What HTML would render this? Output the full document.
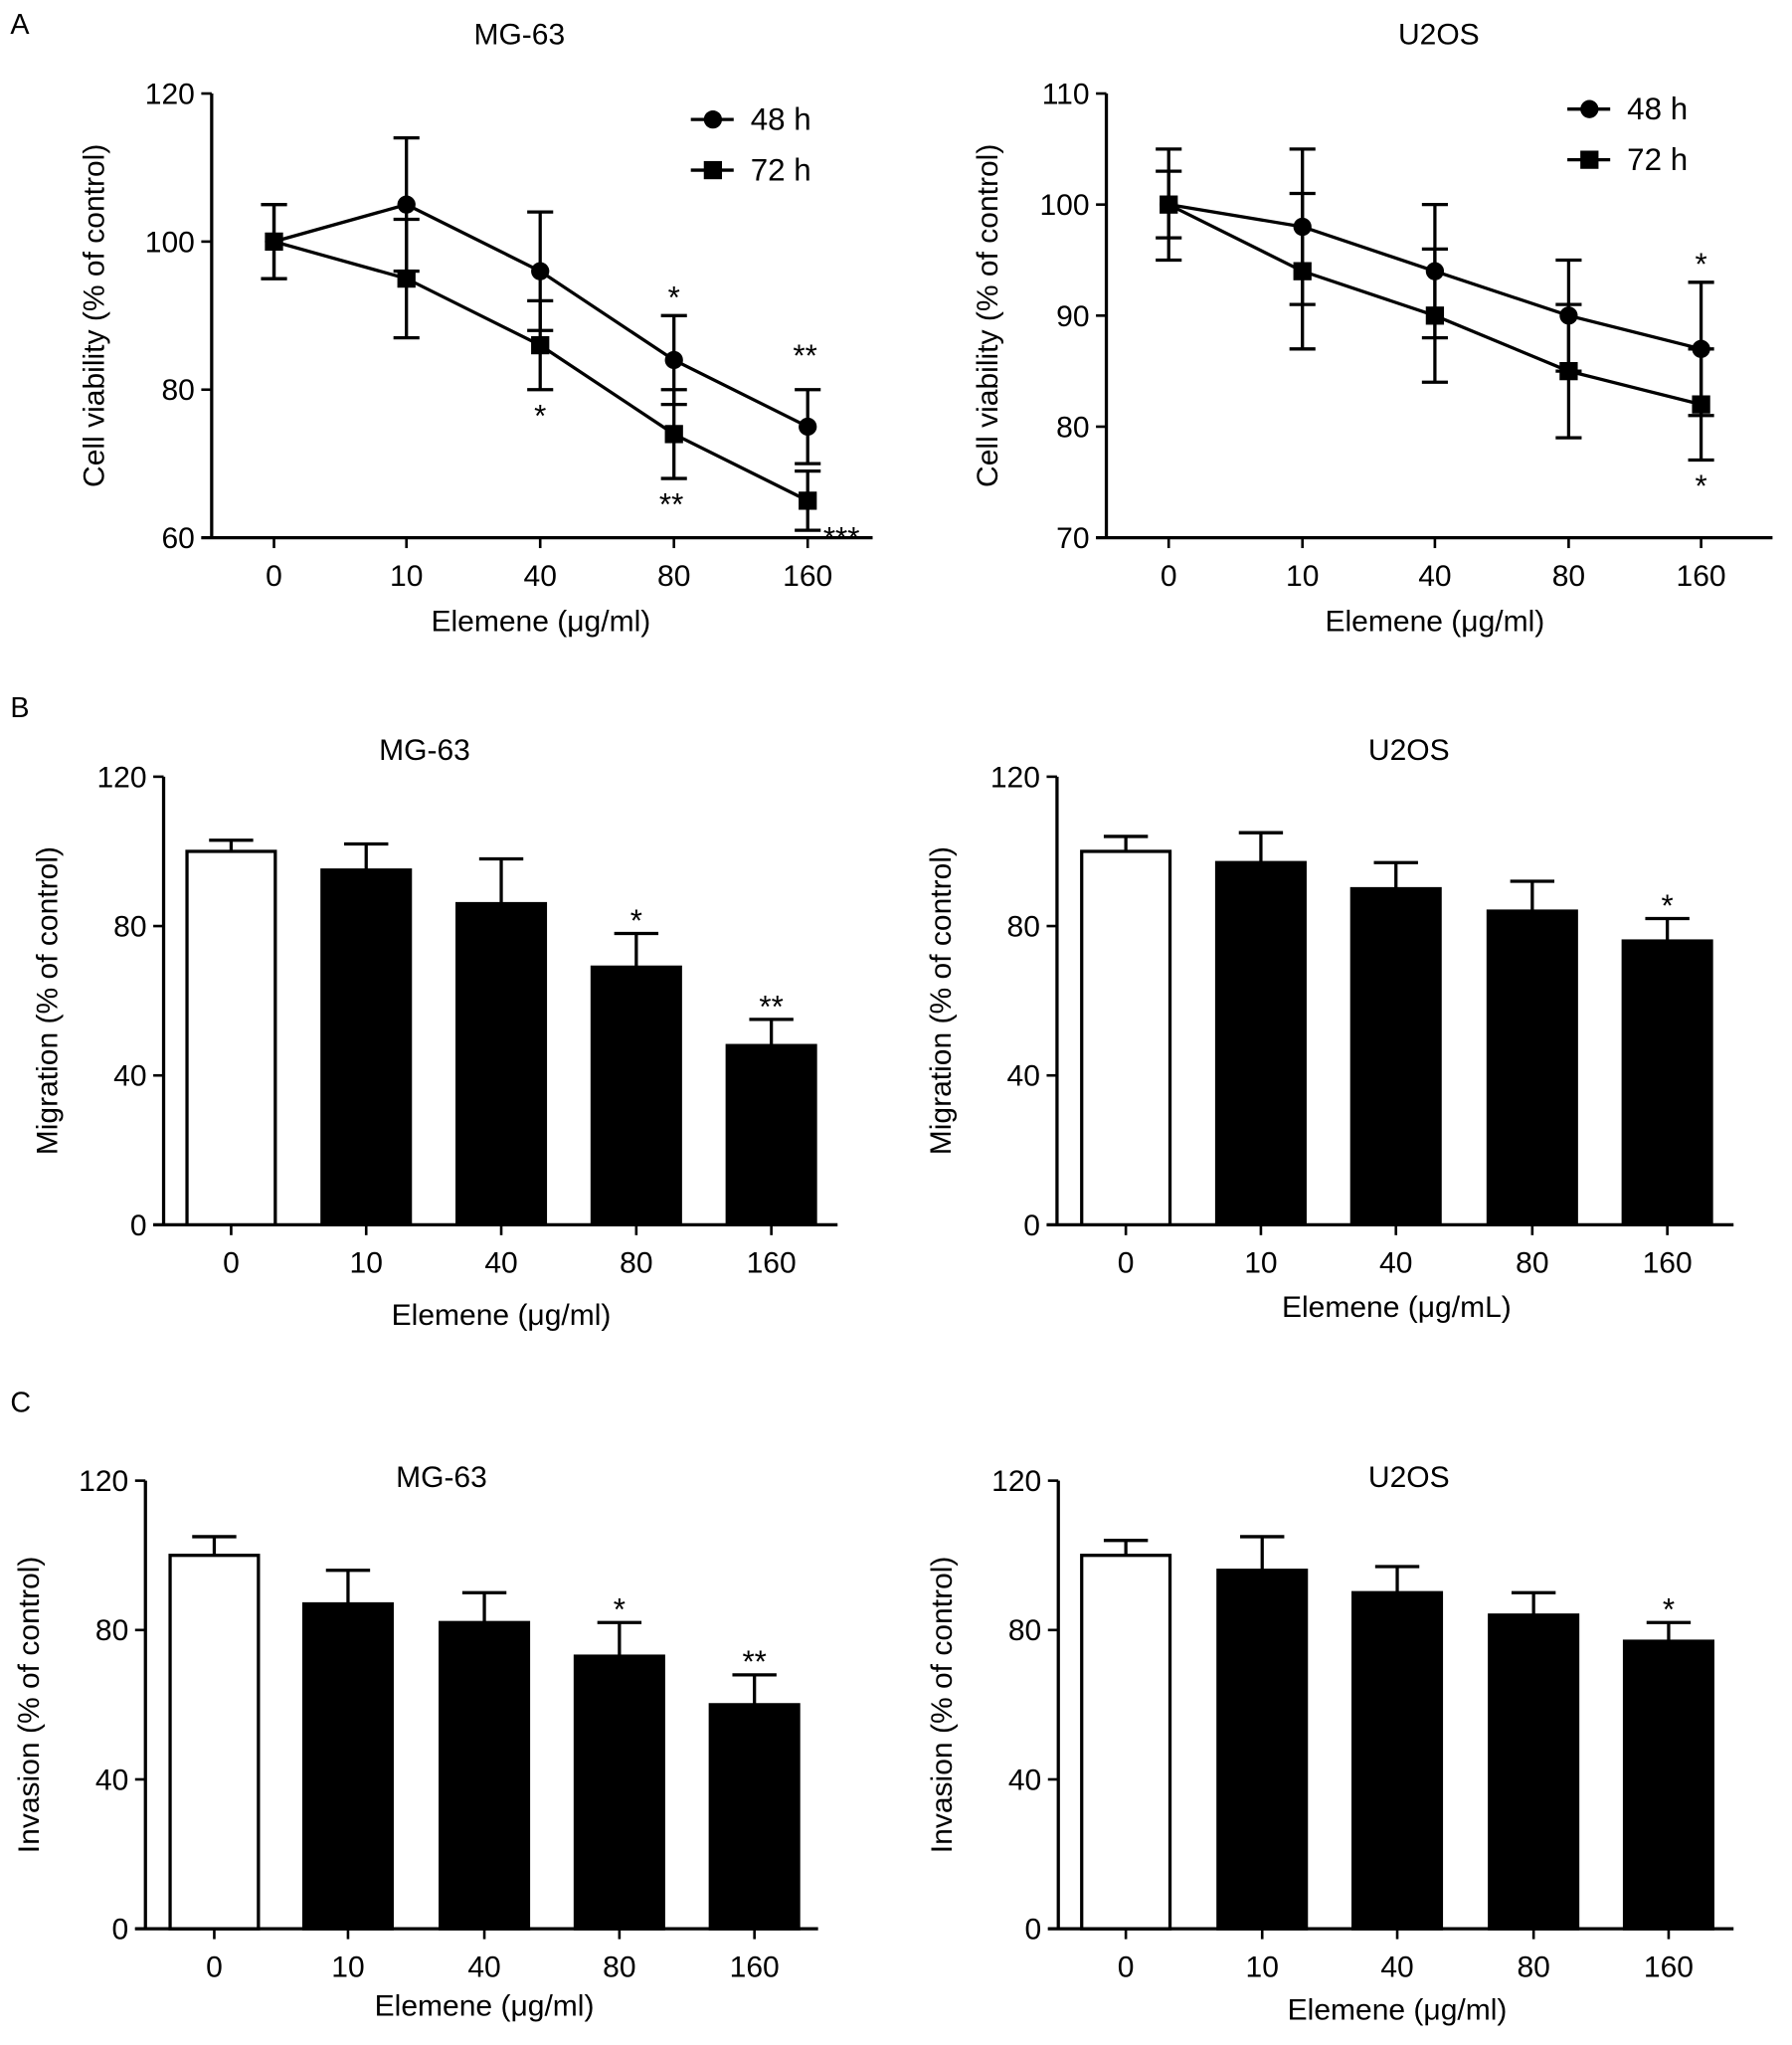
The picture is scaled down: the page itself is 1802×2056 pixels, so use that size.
<!DOCTYPE html>
<html><head><meta charset="utf-8"><style>
html,body{margin:0;padding:0;background:#fff;}
svg{display:block;font-family:"Liberation Sans",Arial,sans-serif;}
</style></head><body>
<svg id="fig" width="1802" height="2056" viewBox="0 0 1380 1574.5" preserveAspectRatio="none" xmlns="http://www.w3.org/2000/svg">
<text x="8" y="26" font-size="22">A</text>
<text x="8" y="552" font-size="22">B</text>
<text x="8" y="1087" font-size="22">C</text>
</svg>
<script>
const doses = ["0","10","40","80","160"];
// Panel A MG-63
const aL48 = [100,105,96,84,75];
const aL48err = [5,9,8,6,5];
const aL72 = [100,95,86,74,65];
const aL72err = [5,8,6,6,4];
// Panel A U2OS
const aR48 = [100,98,94,90,87];
const aR48err = [5,7,6,5,6];
const aR72 = [100,94,90,85,82];
const aR72err = [3,7,6,6,5];
// Panel B
const bL = [100,95,86,69,48];
const bLerr = [3,7,12,9,7];
const bLsig = ["","","","*","**"];
const bR = [100,97,90,84,76];
const bRerr = [4,8,7,8,6];
const bRsig = ["","","","","*"];
// Panel C
const cL = [100,87,82,73,60];
const cLerr = [5,9,8,9,8];
const cLsig = ["","","","*","**"];
const cR = [100,96,90,84,77];
const cRerr = [4,9,7,6,5];
const cRsig = ["","","","","*"];
const ticksA = [60,80,100,120];
const ticksA2 = [70,80,90,100,110];
const ticksBC = [0,40,80,120];

const FS = 23;
const svg = document.getElementById('fig');
const NS = 'http://www.w3.org/2000/svg';
function el(tag, attrs, parent){
  const e = document.createElementNS(NS, tag);
  for (const k in attrs) e.setAttribute(k, attrs[k]);
  (parent||svg).appendChild(e);
  return e;
}
function txt(x,y,s,size,anchor,parent){
  const t = el('text',{x:x,y:y,'font-size':size,'text-anchor':anchor||'middle'},parent);
  t.textContent = s; return t;
}

function axes(g, o){
  const ys = v => o.yBot - (v - o.vmin) / (o.vmax - o.vmin) * (o.yBot - o.yTop);
  const ya = el('line',{x1:o.ax,y1:o.yTop,x2:o.ax,y2:o.yBot,stroke:'#000','stroke-width':2.5},g);
  
  
  const xa = el('line',{x1:o.ax-8,y1:o.yBot,x2:o.x1,y2:o.yBot,stroke:'#000','stroke-width':2.5},g);
  
  
  o.ticks.forEach(v=>{
    el('line',{x1:o.ax-8,y1:ys(v),x2:o.ax,y2:ys(v),stroke:'#000','stroke-width':2},g);
    const t = txt(o.ax-13, ys(v)+8, String(v), FS, 'end', g);
    
    
  });
  o.xs.forEach((x,i)=>{
    el('line',{x1:x,y1:o.yBot,x2:x,y2:o.yBot+8,stroke:'#000','stroke-width':2},g);
    const t = txt(x, o.yBot+37, doses[i], FS, 'middle', g);
    
    
  });
  const ti = txt(o.titleX, o.titleY, o.title, FS, 'middle', g);
  
  
  const yl = txt(0,0,o.ylabel,FS,'middle',g);
  yl.setAttribute('transform','translate('+o.ylabelX+','+((o.yTop+o.yBot)/2)+') rotate(-90)');
  
  
  const xl = txt((o.xs[0]+o.xs[4])/2, o.xlabelY, o.xlabel, FS, 'middle', g);
  
  
  return ys;
}

function errbar(g,x,y1,y2,hw){
  el('line',{x1:x,y1:y1,x2:x,y2:y2,stroke:'#000','stroke-width':2.5},g);
  el('line',{x1:x-hw,y1:y2,x2:x+hw,y2:y2,stroke:'#000','stroke-width':2.5},g);
}

function lineChart(o, s48, e48, s72, e72, stars, legX, legY){
  const g = el('g',{});
  
  
  const ys = axes(g,o);
  [[s72,e72],[s48,e48]].forEach(([s,e])=>{
    s.forEach((v,i)=>{ errbar(g,o.xs[i],ys(v),ys(v+e[i]),10); errbar(g,o.xs[i],ys(v),ys(v-e[i]),10); });
  });
  const p48 = el('polyline',{points:s48.map((v,i)=>o.xs[i]+','+ys(v)).join(' '),fill:'none',stroke:'#000','stroke-width':2.5},g);
  
  
  const p72 = el('polyline',{points:s72.map((v,i)=>o.xs[i]+','+ys(v)).join(' '),fill:'none',stroke:'#000','stroke-width':2.5},g);
  
  
  s48.forEach((v,i)=>{
    const c = el('circle',{cx:o.xs[i],cy:ys(v),r:7,fill:'#000'},g);
    
    
  });
  s72.forEach((v,i)=>{
    const r = el('rect',{x:o.xs[i]-7,y:ys(v)-7,width:14,height:14,fill:'#000'},g);
    
    
  });
  stars.forEach(st=>{
    const val = st.s==='48' ? s48[st.i]+e48[st.i] : s72[st.i]-e72[st.i];
    const y = st.s==='48' ? ys(val)-6 : ys(val)+28;
    const t = txt(o.xs[st.i]+(st.dx||0), y+(st.dy||0), st.t, 24, 'middle', g);
    
    
  });
  const lg = el('g',{},g);
  
  
  el('line',{x1:legX,y1:legY,x2:legX+33,y2:legY,stroke:'#000','stroke-width':2.5},lg);
  el('circle',{cx:legX+17,cy:legY,r:7,fill:'#000'},lg);
  const t1 = txt(legX+46,legY+8,'48 h',24,'start',lg);
  
  
  el('line',{x1:legX,y1:legY+39,x2:legX+33,y2:legY+39,stroke:'#000','stroke-width':2.5},lg);
  el('rect',{x:legX+10,y:legY+32,width:14,height:14,fill:'#000'},lg);
  const t2 = txt(legX+46,legY+47,'72 h',24,'start',lg);
  
  
}

function barChart(o, vals, errs, sig){
  const g = el('g',{});
  
  
  const ys = axes(g,o);
  vals.forEach((v,i)=>{
    const x = o.xs[i];
    errbar(g,x,ys(v),ys(v+errs[i]),17);
    const b = el('rect',{x:x-34,y:ys(v),width:68,height:o.yBot-ys(v),fill:i===0?'#fff':'#000',stroke:'#000','stroke-width':2.5},g);
    
    
    if (sig[i]) {
      const t = txt(x, ys(v+errs[i])-2, sig[i], 24, 'middle', g);
      
      
    }
  });
}

const ylA = 'Cell viability (% of control)';
lineChart({ax:163,x1:672,yTop:72,yBot:414,vmin:60,vmax:120,ticks:ticksA,xs:[211,313,416,519,622],
  title:'MG-63',titleX:400,titleY:34,ylabel:ylA,ylabelX:80,xlabel:'Elemene (\u03bcg/ml)',xlabelY:486},
  aL48,aL48err,aL72,aL72err,
  [{s:'48',i:3,t:'*'},{s:'48',i:4,t:'**',dx:-2,dy:-12},{s:'72',i:2,t:'*'},{s:'72',i:3,t:'**',dx:-2},{s:'72',i:4,t:'***',dx:26,dy:-14}],
  532,92);
lineChart({ax:852,x1:1365,yTop:72,yBot:414,vmin:70,vmax:110,ticks:ticksA2,xs:[900,1003,1105,1208,1310],
  title:'U2OS',titleX:1108,titleY:34,ylabel:ylA,ylabelX:768,xlabel:'Elemene (\u03bcg/ml)',xlabelY:486},
  aR48,aR48err,aR72,aR72err,
  [{s:'48',i:4,t:'*'},{s:'72',i:4,t:'*'}],
  1207,84);

barChart({key:'migration',ax:126,x1:645,yTop:598,yBot:943,vmin:0,vmax:120,ticks:ticksBC,xs:[178,282,386,490,594],
  title:'MG-63',titleX:327,titleY:585,ylabel:'Migration (% of control)',ylabelX:44,xlabel:'Elemene (\u03bcg/ml)',xlabelY:1020},
  bL,bLerr,bLsig);
barChart({key:'migration',ax:814,x1:1335,yTop:598,yBot:943,vmin:0,vmax:120,ticks:ticksBC,xs:[867,971,1075,1180,1284],
  title:'U2OS',titleX:1085,titleY:585,ylabel:'Migration (% of control)',ylabelX:732,xlabel:'Elemene (\u03bcg/mL)',xlabelY:1014},
  bR,bRerr,bRsig);
barChart({key:'invasion',ax:112,x1:630,yTop:1140,yBot:1485,vmin:0,vmax:120,ticks:ticksBC,xs:[165,268,373,477,581],
  title:'MG-63',titleX:340,titleY:1145,ylabel:'Invasion (% of control)',ylabelX:30,xlabel:'Elemene (\u03bcg/ml)',xlabelY:1552},
  cL,cLerr,cLsig);
barChart({key:'invasion',ax:815,x1:1335,yTop:1140,yBot:1485,vmin:0,vmax:120,ticks:ticksBC,xs:[867,972,1076,1181,1285],
  title:'U2OS',titleX:1085,titleY:1145,ylabel:'Invasion (% of control)',ylabelX:733,xlabel:'Elemene (\u03bcg/ml)',xlabelY:1555},
  cR,cRerr,cRsig);
</script>
</body></html>
